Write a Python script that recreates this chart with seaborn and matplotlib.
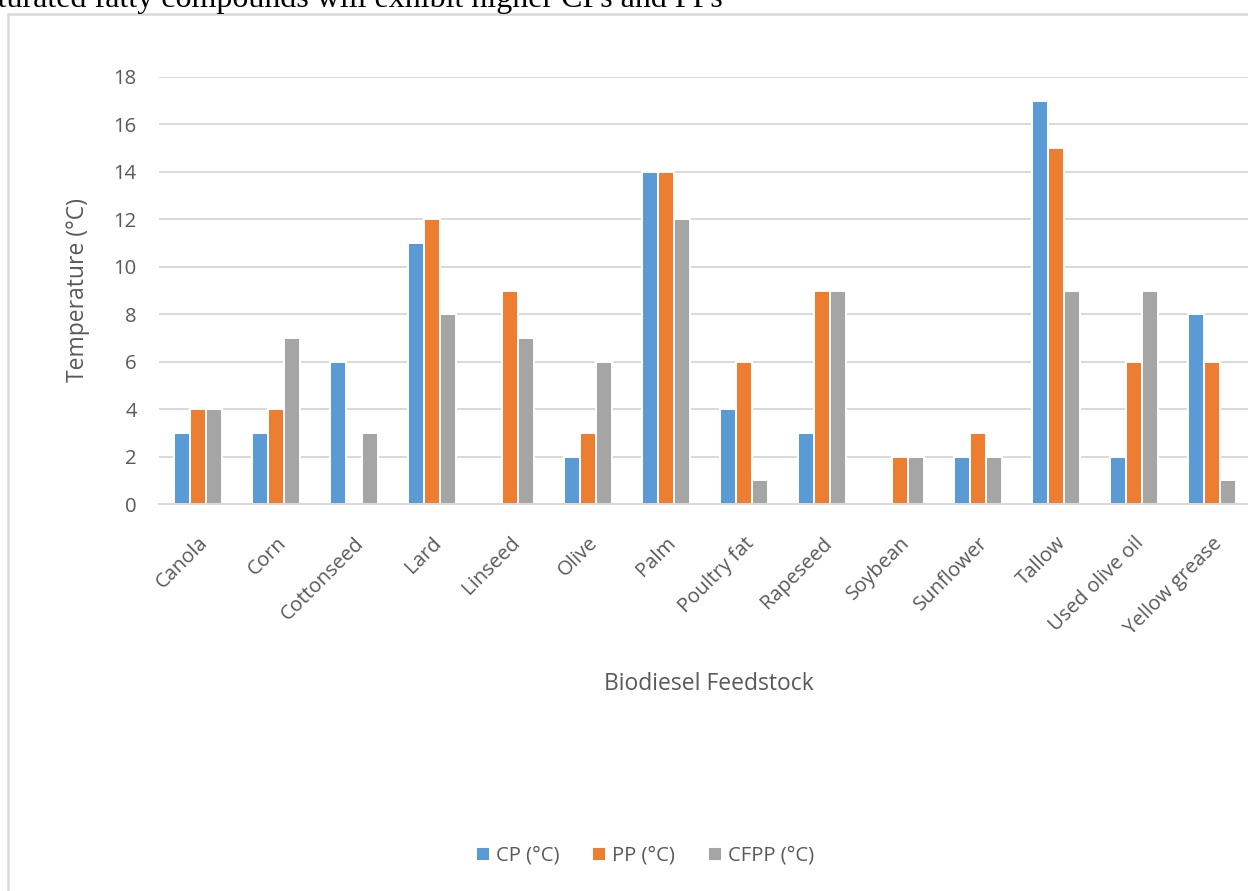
import matplotlib
matplotlib.use("Agg")
import matplotlib.pyplot as plt
from matplotlib.patches import Rectangle
import seaborn as sns
import numpy as np
import pandas as pd

#%% Data
feedstocks = ["Canola", "Corn", "Cottonseed", "Lard", "Linseed", "Olive", "Palm",
              "Poultry fat", "Rapeseed", "Soybean", "Sunflower", "Tallow",
              "Used olive oil", "Yellow grease"]
cp = [3, 3, 6, 11, np.nan, 2, 14, 4, 3, np.nan, 2, 17, 2, 8]
pp = [4, 4, np.nan, 12, 9, 3, 14, 6, 9, 2, 3, 15, 6, 6]
cfpp = [4, 7, 3, 8, 7, 6, 12, 1, 9, 2, 2, 9, 9, 1]
series = ["CP (°C)", "PP (°C)", "CFPP (°C)"]
colors = ["#5B9BD5", "#ED7D31", "#A5A5A5"]
yticks = [0, 2, 4, 6, 8, 10, 12, 14, 16, 18]

# long format for seaborn
df = pd.DataFrame({"Feedstock": feedstocks, series[0]: cp, series[1]: pp, series[2]: cfpp})
df = df.melt(id_vars="Feedstock", var_name="Series", value_name="Temp")

#%% Figure
sns.set_style("white")
plt.rcParams["font.family"] = ["Open Sans", "DejaVu Sans"]
grey = "#595959"

fig = plt.figure(figsize=(12.48, 8.91), dpi=100)
W, H = 1248, 891

# chart frame (cropped screenshot of an office chart)
fig.patches.append(Rectangle((8 / W, -0.1), 1.2, (H - 14) / H + 0.1, transform=fig.transFigure,
                             fill=False, edgecolor="#d9d9d9", linewidth=1.8))
# sentence cut at the top of the page
fig.text(723 / W, 1 - 7 / H, "saturated fatty compounds will exhibit higher CPs and PPs",
         ha="right", va="baseline", fontsize=23.0, family=["Liberation Serif"], color="black")

ax = fig.add_axes([159 / W, 387 / H, (W - 159) / W, 427 / H])
sns.barplot(data=df, x="Feedstock", y="Temp", hue="Series", palette=colors, saturation=1,
            width=0.62, gap=0, edgecolor="white", linewidth=1.4, ax=ax, legend=True)

ax.set_ylim(0, 18)
ax.set_xlim(-0.5, 13.46)
ax.set_yticks(yticks)
ax.yaxis.grid(True, color="#d9d9d9", linewidth=1.4)
ax.set_axisbelow(True)
for s in ["left", "top", "right"]:
    ax.spines[s].set_visible(False)
ax.spines["bottom"].set_color("#d9d9d9")
ax.spines["bottom"].set_linewidth(1.4)
ax.tick_params(axis="y", length=0, pad=16, labelsize=14.6, labelcolor=grey)
ax.tick_params(axis="x", length=0, pad=21, labelsize=14.6, labelcolor=grey)
plt.setp(ax.get_xticklabels(), rotation=45, ha="right", va="top", rotation_mode="anchor")

ax.set_ylabel("Temperature (°C)", fontsize=16.5, color=grey)
ax.yaxis.set_label_coords(-0.0634, 0.5)
ax.set_xlabel("Biodiesel Feedstock", fontsize=16.5, color=grey)
ax.xaxis.set_label_coords(0.505, -0.3934)

# legend at the bottom like the original
handles, labels = ax.get_legend_handles_labels()
ax.get_legend().remove()
fig.legend(handles, labels, loc="center", bbox_to_anchor=(645 / W, 1 - 856 / H), ncol=3,
           frameon=False, fontsize=14.6, labelcolor=grey, handlelength=0.7, handleheight=0.7,
           handletextpad=0.3, columnspacing=1.6)

plt.savefig("out.png", dpi=100)
